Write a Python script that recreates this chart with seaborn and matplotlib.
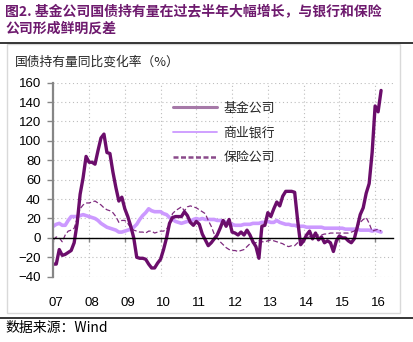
import numpy as np
import pandas as pd
import matplotlib
matplotlib.use("Agg")
import matplotlib.pyplot as plt
import matplotlib.transforms as mtransforms
from matplotlib.lines import Line2D
from matplotlib.patches import Rectangle
import seaborn as sns

# ---------------- data (monthly, Jan 2007 - Mar 2016, YoY %) ----------------
year_labels = ["07", "08", "09", "10", "11", "12", "13", "14", "15", "16"]

fund = [-27, -27, -12, -18, -17, -15, -13, -5, 15, 45,
        62, 84, 78, 78, 76, 90, 103, 107, 88, 87,
        68, 52, 38, 42, 30, 22, 12, 0, -20, -21,
        -21, -22, -27, -31, -31, -26, -22, -12, 0, 15,
        21, 22, 22, 22, 27, 23, 16, 13, 17, 14,
        4, -2, -8, -5, -1, 3, 10, 18, 12, 19,
        6, 5, 3, 6, 3, 8, 3, -4, -9, -21,
        12, 13, 26, 22, 30, 37, 33, 43, 48, 48,
        48, 47, 18, -7, -3, 3, 7, -1, 5, -2,
        1, -5, -3, -5, -14, -3, 2, 0, 0, -3,
        -5, -1, 11, 24, 31, 46, 56, 88, 136, 130,
        152]

bank = [12, 14, 15, 13, 13, 18, 22, 22, 22, 23,
        24, 23, 22, 21, 20, 18, 15, 13, 11, 10,
        9, 8, 6, 6, 7, 8, 9, 11, 14, 19,
        23, 26, 30, 28, 27, 27, 27, 25, 24, 21,
        19, 17, 16, 15, 16, 17, 17, 19, 20, 19,
        20, 19, 19, 19, 19, 18, 18, 17, 16, 15,
        14, 13, 13, 13, 14, 14, 14, 15, 15, 15,
        16, 16, 17, 16, 16, 18, 16, 15, 14, 14,
        13, 13, 12, 12, 12, 11, 11, 11, 11, 11,
        11, 10, 10, 10, 10, 10, 10, 10, 9, 9,
        9, 9, 9, 8, 8, 8, 8, 7, 8, 7,
        6]

insurance = [-2, 1, 0, -4, 3, 7, 8, 10, 20, 30,
             34, 36, 36, 37, 38, 36, 34, 31, 29, 28,
             26, 22, 16, 18, 18, 15, 10, 8, 7, 6,
             6, 5, 7, 7, 5, 6, 7, 7, 9, 14,
             25, 28, 30, 32, 28, 32, 33, 32, 31, 29,
             27, 25, 18, 12, 4, 0, -4, -7, -10, -12,
             -13, -13, -14, -13, -12, -9, -6, -5, -5, -3,
             -4, -4, -3, -2, -3, -4, -5, -6, -8, -9,
             -8, -8, -5, -3, -1, 0, 1, 2, 2, 3,
             3, 4, 4, 5, 5, 5, 5, 5, 5, 5,
             6, 7, 12, 16, 19, 21, 15, 7, 8, 9,
             7]

series_names = ["基金公司", "商业银行", "保险公司"]

df = pd.DataFrame({
    "month": np.arange(len(fund)),
    "基金公司": fund,
    "商业银行": bank,
    "保险公司": insurance,
})

# ---------------- style ----------------
sns.set_theme(style="white")
plt.rcParams["font.family"] = ["Noto Sans CJK SC", "DejaVu Sans"]

W, H = 414, 342
fig = plt.figure(figsize=(W / 100, H / 100), dpi=100)
ax = fig.add_axes([53.3 / W, 1 - 276.7 / H, (393 - 53.3) / W, (276.7 - 82.7) / H])

c_fund = "#6B0D6B"
c_bank = "#CC99FF"
c_ins = "#7E2A7E"

sns.lineplot(data=df, x="month", y="商业银行", ax=ax, color=c_bank, lw=2.6, legend=False)
sns.lineplot(data=df, x="month", y="保险公司", ax=ax, color=c_ins, lw=0.9,
             linestyle=(0, (4, 2)), legend=False)
sns.lineplot(data=df, x="month", y="基金公司", ax=ax, color=c_fund, lw=2.4, legend=False)

ax.set_xlim(0, 114)
ax.set_ylim(-40, 160)
ax.set_yticks(np.arange(-40, 161, 20))
ax.set_xticks(np.arange(0, 12 * len(year_labels), 12))
ax.set_xticklabels(year_labels)
ax.set_xlabel("")
ax.set_ylabel("")

ax.set_axisbelow(True)
ax.grid(True, linestyle=(0, (1, 2.5)), color="#BDBDBD", lw=0.8)

for s in ["top", "right"]:
    ax.spines[s].set_visible(False)
ax.spines["left"].set_color("#868686")
ax.spines["left"].set_linewidth(1.6)
ax.spines["bottom"].set_position(("data", 0))
ax.spines["bottom"].set_color("black")
ax.spines["bottom"].set_linewidth(1.0)

ax.tick_params(axis="y", left=True, direction="out", length=4, width=1,
               color="#868686", pad=5, labelsize=9.5, labelcolor="black")
ax.tick_params(axis="x", bottom=True, direction="out", length=3, width=1,
               color="#868686", pad=39.5, labelsize=9.5, labelcolor="black")
for lab in ax.get_yticklabels() + ax.get_xticklabels():
    lab.set_family(["Liberation Sans", "DejaVu Sans"])
offset = mtransforms.ScaledTranslation(3 / 100, 0, fig.dpi_scale_trans)
for lab in ax.get_xticklabels():
    lab.set_transform(lab.get_transform() + offset)

# legend
handles = [
    Line2D([], [], color="#A679A8", lw=2.2),
    Line2D([], [], color="#CC99FF", lw=1.3),
    Line2D([], [], color="#8A4A8A", lw=1.8, linestyle=(0, (2, 1))),
]
ax.legend(handles, series_names, loc="upper left",
          bbox_to_anchor=(173 / W, 1 - 101.5 / H), bbox_transform=fig.transFigure,
          frameon=False, fontsize=9.3, handlelength=3.4, handletextpad=0.5,
          labelspacing=0.92, borderpad=0, borderaxespad=0)

# title, frame and source
tcol = "#6E1A6E"
fig.text(5 / W, 1 - 12 / H, "图2. 基金公司国债持有量在过去半年大幅增长，与银行和保险",
         fontsize=10.0, fontweight="bold", color=tcol, va="center", ha="left")
fig.text(5 / W, 1 - 29 / H, "公司形成鲜明反差",
         fontsize=10.0, fontweight="bold", color=tcol, va="center", ha="left")
fig.add_artist(Line2D([0, 1], [1 - 43.3 / H] * 2, color="black", lw=1.1,
                      transform=fig.transFigure))
fig.add_artist(Rectangle((7 / W, 1 - 313 / H), (400 - 7) / W, (313 - 44) / H,
                         fill=False, ec="#D9D9D9", lw=1, transform=fig.transFigure))
fig.add_artist(Line2D([0, 1], [1 - 317.7 / H] * 2, color="black", lw=1.1,
                      transform=fig.transFigure))
fig.text(15 / W, 1 - 62 / H, "国债持有量同比变化率（%）", fontsize=9.2,
         color="#262626", va="center", ha="left")
fig.text(5 / W, 1 - 328 / H, "数据来源：Wind", fontsize=10, color="black",
         va="center", ha="left")

fig.savefig("out.png", dpi=100)
